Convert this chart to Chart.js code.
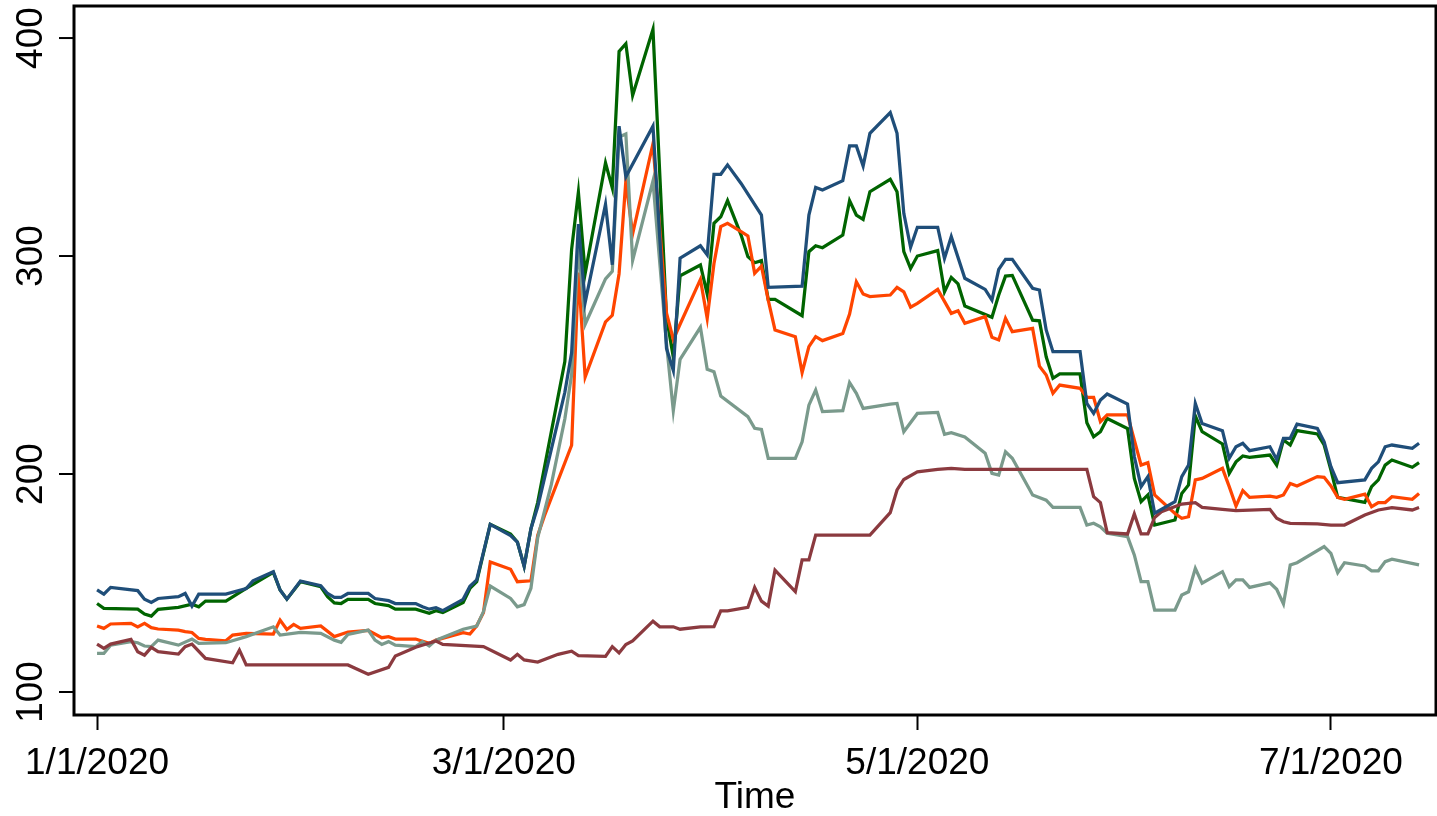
<!DOCTYPE html>
<html>
<head>
<meta charset="utf-8">
<title>Time series</title>
<script src="https://cdn.jsdelivr.net/npm/chart.js@4.4.1/dist/chart.umd.min.js"></script>
<style>
  html, body { margin: 0; padding: 0; background: #fff; }
  canvas { display: block; }
</style>
</head>
<body>
<canvas id="chart" width="1437" height="816"></canvas>
<script>
// Days since 1/1/2020 for the axis ticks and their labels
const tickDays = [0, 60, 121, 182];
const tickLabels = ["1/1/2020", "3/1/2020", "5/1/2020", "7/1/2020"];
const yTicks = [100, 200, 300, 400];

// Serie azul
const blueDays = [0,1,2,6,7,8,9,12,13,14, 15,19,22,23,26,27,28,30,33,34, 35,36,37,40,41,43,44,47,48,49,
  50,51,54,55,56,58,61,62,63,64, 65,69,70,71,72,75,76,77,78,82, 84,85,86,89,90,91,92,93,95,98,
  99,104,105,106,107,110,111,112,113,114, 117,118,119,120,121,124,125,126,128,131, 132,133,134,135,138,139,140,141,145,146,
  147,148,149,152,153,154,155,156,159,160, 161,162,163,166,167,168,169,170,173,174, 175,176,177,180,181,182,183,187,188,189,
  190,191,194,195];
const blueValues = [146.8,144.9,148.0,146.5,142.6,141.1,142.9,143.7,145.2,139.4, 144.9,144.9,147.5,151.0,155.2,146.8,142.6,150.9,148.8,145.2,
  143.4,143.4,145.2,145.2,142.9,141.9,140.6,140.6,139.1,138.0, 138.7,137.3,142.5,148.5,151.4,176.9,171.8,168.8,157.7,174.9,
  185.0,237.5,255.6,314.6,278.8,323.7,296.0,359.6,336.4,359.6, 257.6,247.5,299.0,304.7,300.5,337.5,337.5,341.8,333.3,318.8,
  285.6,286.2,318.8,331.5,330.3,334.6,350.5,350.5,341.3,356.3, 365.8,356.3,319.6,304.0,313.2,313.2,298.9,308.9,289.8,284.7,
  279.8,293.9,298.5,298.5,285.2,284.4,266.1,256.1,256.1,232.4, 227.8,233.9,236.7,232.1,208.0,194.2,198.8,182.0,187.3,198.8,
  204.1,232.4,223.2,219.9,207.2,212.5,214.1,210.7,212.5,206.7, 216.4,216.4,222.9,220.9,214.8,203.4,196.0,197.3,202.6,205.6,
  212.5,213.3,211.8,214.1];

// Serie verde
const greenDays = [0,1,6,7,8,9,12,14,15,16, 19,22,26,27,28,30,33,34,35,36, 37,40,41,43,44,47,49,50,51,54,
  55,56,58,61,62,63,64,65,69,70, 71,72,75,76,77,78,79,82,84,85, 86,89,90,91,92,93,95,96,97,98,
  99,100,104,105,106,107,110,111,112,113, 114,117,118,119,120,121,124,125,126,127, 128,132,133,134,135,138,139,140,141,142,
  145,146,147,148,149,152,153,154,155,156, 159,160,161,162,163,166,167,168,169,170, 173,174,175,176,177,180,181,182,183,187,
  188,189,190,191,194,195];
const greenValues = [140.6,138.4,138.0,135.8,134.8,137.9,138.8,140.3,139.1,141.7, 141.7,147.5,154.9,146.8,142.6,150.6,148.3,143.7,140.9,140.6,
  142.5,142.5,140.6,139.6,138.0,138.0,136.1,137.3,136.5,141.0, 147.5,150.6,176.9,172.4,168.8,157.7,174.9,187.0,251.6,303.1,
  329.3,292.0,342.8,331.3,393.9,397.4,373.7,404.0,271.8,253.6, 290.9,295.9,282.6,315.0,318.0,325.4,309.6,299.7,296.9,297.9,
  280.1,280.1,272.6,302.0,304.7,303.8,309.6,325.4,318.8,316.8, 329.5,335.2,329.5,302.0,294.3,300.0,302.5,283.6,290.2,287.2,
  277.1,271.9,282.1,290.8,291.1,270.6,270.3,253.8,243.9,245.9, 245.9,223.5,217.1,219.4,225.5,220.9,198.0,187.3,190.4,176.6,
  178.9,191.1,195.0,226.6,219.4,213.8,200.3,205.6,208.3,207.6, 208.7,204.1,215.6,213.3,219.9,218.4,213.3,201.8,189.3,187.0,
  194.2,197.3,204.1,206.4,203.1,205.2];

// Serie naranja
const orangeDays = [0,1,2,5,6,7,8,9,12,13, 14,15,16,19,20,22,26,27,28,29, 30,33,35,37,40,42,43,44,47,49,
  50,54,55,56,57,58,61,62,64,65, 66,70,71,72,75,76,77,78,79,82, 84,85,86,89,90,91,92,93,95,96,
  97,98,99,100,103,104,105,106,107,110, 111,112,113,114,117,118,119,120,121,124, 126,127,128,131,132,133,134,135,138,139,
  140,141,142,145,146,147,148,149,152,154, 155,156,159,160,161,162,163,166,167,168, 169,170,173,174,175,176,177,180,181,182,
  183,184,187,188,189,190,191,194,195];
const orangeValues = [130.3,129.2,131.2,131.5,129.9,131.5,129.5,128.9,128.4,127.7, 127.3,124.6,124.1,123.5,126.1,126.9,126.6,133.0,128.7,131.0,
  129.2,130.3,125.4,127.5,128.3,124.9,125.4,124.3,124.3,122.3, 123.8,127.2,126.6,130.4,136.5,159.7,156.3,150.6,151.0,171.8,
  180.9,213.2,292.4,244.5,269.8,272.8,291.9,334.4,310.1,351.5, 273.8,261.7,268.7,289.3,271.4,296.6,313.5,315.0,311.2,309.2,
  292.1,295.4,279.8,266.1,263.0,246.5,258.4,263.0,261.2,264.5, 273.4,288.2,282.6,281.4,282.1,285.6,283.6,276.5,278.3,284.7,
  273.7,274.9,269.1,272.2,262.7,261.5,271.4,265.3,266.8,249.5, 245.4,237.0,240.8,239.3,235.2,235.2,224.0,227.1,227.1,204.1,
  205.2,190.4,181.9,179.7,180.4,197.3,198.0,202.6,194.2,185.3, 192.4,189.3,189.9,189.3,190.4,195.7,194.5,198.8,198.5,194.5,
  189.3,188.4,190.8,185.0,186.9,186.9,189.6,188.4,191.1];

// Serie gris
const grayDays = [0,1,2,5,6,7,8,9,12,14, 15,19,22,26,27,30,33,35,36,37, 40,41,42,43,44,47,48,49,50,54,
  56,57,58,61,62,63,64,65,67,69, 70,71,72,75,76,77,78,79,82,84, 85,86,89,90,91,92,96,97,98,99,
  103,104,105,106,107,110,111,112,113,117, 118,119,121,124,125,126,128,131,132,133, 134,135,138,140,141,145,146,147,148,149,
  152,153,154,155,156,159,160,161,162,163, 166,167,168,169,170,173,174,175,176,177, 181,182,183,184,187,188,189,190,191,195];
const grayValues = [117.7,117.7,121.5,123.1,122.6,121.1,120.8,123.8,121.5,124.3, 122.3,122.6,125.4,129.9,126.1,127.3,126.9,123.8,122.8,126.4,
  128.4,123.8,121.8,123.1,121.5,120.8,123.1,121.1,123.8,128.8, 130.2,136.9,148.6,142.9,139.1,140.1,147.6,170.8,195.1,225.3,
  245.5,305.1,268.7,289.5,293.0,354.6,356.0,298.0,334.4,259.7, 229.0,252.6,267.3,248.0,246.9,235.8,226.3,221.0,220.5,207.2,
  207.2,214.8,231.6,238.5,228.6,229.1,241.9,237.0,230.1,232.1, 232.4,219.4,227.8,228.3,218.2,219.0,217.0,209.5,200.3,199.5,
  210.2,207.2,190.4,188.0,184.7,184.7,176.6,177.4,175.8,172.8, 171.3,162.9,150.6,150.6,137.6,137.6,144.5,146.0,156.7,149.9,
  155.2,148.3,151.4,151.4,148.0,150.1,147.1,140.4,158.3,159.3, 166.7,163.6,154.7,159.3,157.8,155.6,155.6,159.8,160.9,158.3];

// Serie granate
const maroonDays = [0,1,2,5,6,7,8,9,12,13, 14,16,20,21,22,37,40,43,44,47, 50,51,57,61,62,63,65,68,70,71,
  75,76,77,78,79,82,83,85,86,89, 91,92,93,96,97,98,99,100,103,104, 105,106,114,117,118,119,121,124,126,128,
  146,147,148,149,152,153,154,155,156,157, 160,162,163,166,168,173,174,175,176,180, 182,184,187,189,191,194,195];
const maroonValues = [122.0,120.0,122.0,124.1,118.5,116.9,120.5,118.5,117.4,120.8, 122.0,115.4,113.4,119.2,112.4,112.4,108.1,111.3,116.5,120.5,
  123.4,121.8,120.8,114.7,117.3,114.7,113.7,117.3,118.7,116.7, 116.3,120.8,117.9,121.8,123.4,132.5,129.9,129.9,128.8,129.9,
  130.0,137.2,137.2,138.8,148.0,141.7,139.4,155.9,146.0,160.6, 160.6,172.0,172.0,182.3,192.7,197.5,201.0,202.1,202.6,202.1,
  202.1,189.6,186.9,173.1,172.5,181.7,172.5,172.5,180.1,182.7, 186.2,186.9,184.7,183.8,183.2,183.8,179.7,178.1,177.4,177.1,
  176.6,176.6,181.2,183.5,184.6,183.5,184.6];

const FONT = '"Liberation Sans", Arial, Helvetica, sans-serif';

// Junta dias y valores en puntos {x, y}
const toPoints = (days, values) => days.map((d, i) => ({ x: d, y: values[i] }));

const makeSet = (days, values, color) => ({
  data: toPoints(days, values),
  borderColor: color,
  borderWidth: 3.25,
  pointRadius: 0,
  tension: 0,
  fill: false
});

// Caja del grafico y etiquetas verticales del eje y (estilo R)
const framePlugin = {
  id: "frame",
  afterDraw(chart) {
    const { ctx, chartArea: a, scales: { y } } = chart;
    ctx.save();
    ctx.strokeStyle = "#000";
    ctx.lineWidth = 3;
    ctx.strokeRect(a.left, a.top, a.right - a.left, a.bottom - a.top);
    ctx.lineWidth = 2;
    ctx.fillStyle = "#000";
    ctx.font = "37px " + FONT;
    ctx.textAlign = "center";
    ctx.textBaseline = "alphabetic";
    yTicks.forEach(v => {
      const py = y.getPixelForValue(v);
      ctx.beginPath();
      ctx.moveTo(a.left - 15, py);
      ctx.lineTo(a.left, py);
      ctx.stroke();
      ctx.save();
      ctx.translate(a.left - 32, py);
      ctx.rotate(-Math.PI / 2);
      ctx.fillText(String(v), 0, 0);
      ctx.restore();
    });
    ctx.restore();
  }
};

new Chart(document.getElementById("chart"), {
  type: "line",
  data: {
    datasets: [
      makeSet(blueDays, blueValues, "#1f4e79"),
      makeSet(maroonDays, maroonValues, "#8b3a3f"),
      makeSet(grayDays, grayValues, "#7a9a8c"),
      makeSet(orangeDays, orangeValues, "#ff4500"),
      makeSet(greenDays, greenValues, "#006400")
    ]
  },
  options: {
    responsive: false,
    devicePixelRatio: 1,
    animation: false,
    layout: { padding: { top: 6, right: 1, left: 0, bottom: 0 } },
    plugins: { legend: { display: false }, tooltip: { enabled: false } },
    scales: {
      x: {
        type: "linear",
        min: -3.4,
        max: 197.5,
        afterBuildTicks: s => { s.ticks = tickDays.map(v => ({ value: v })); },
        afterFit: s => { s.height = 101; },
        ticks: {
          autoSkip: false,
          maxRotation: 0,
          padding: 12,
          color: "#000",
          font: { family: FONT, size: 37 },
          callback: v => tickLabels[tickDays.indexOf(v)]
        },
        grid: { drawOnChartArea: false, drawTicks: true, tickLength: 15, tickWidth: 2, tickColor: "#000" },
        border: { display: false },
        title: {
          display: true,
          text: "Time",
          color: "#000",
          font: { family: FONT, size: 37, lineHeight: 1 },
          padding: 0
        }
      },
      y: {
        type: "linear",
        min: 89.45,
        max: 414.7,
        afterFit: s => { s.width = 74; },
        ticks: { display: false },
        grid: { display: false },
        border: { display: false }
      }
    }
  },
  plugins: [framePlugin]
});
</script>
</body>
</html>
